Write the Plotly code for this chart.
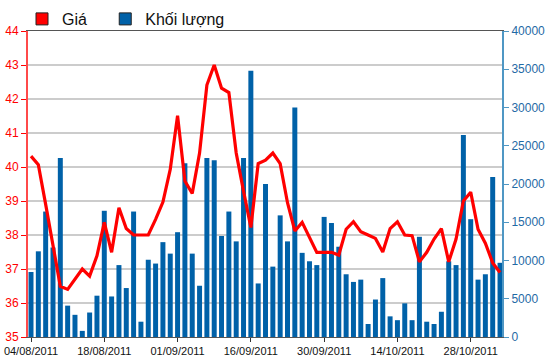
import plotly.graph_objects as go

dates = [
    "04/08/2011", "05/08/2011", "08/08/2011", "09/08/2011", "10/08/2011", "11/08/2011", "12/08/2011",
    "15/08/2011", "16/08/2011", "17/08/2011", "18/08/2011", "19/08/2011", "22/08/2011", "23/08/2011",
    "24/08/2011", "25/08/2011", "26/08/2011", "29/08/2011", "30/08/2011", "31/08/2011",
    "01/09/2011", "05/09/2011", "06/09/2011", "07/09/2011", "08/09/2011", "09/09/2011", "12/09/2011",
    "13/09/2011", "14/09/2011", "15/09/2011", "16/09/2011", "19/09/2011", "20/09/2011", "21/09/2011",
    "22/09/2011", "23/09/2011", "26/09/2011", "27/09/2011", "28/09/2011", "29/09/2011", "30/09/2011",
    "03/10/2011", "04/10/2011", "05/10/2011", "06/10/2011", "07/10/2011", "10/10/2011", "11/10/2011",
    "12/10/2011", "13/10/2011", "14/10/2011", "17/10/2011", "18/10/2011", "19/10/2011", "20/10/2011",
    "21/10/2011", "24/10/2011", "25/10/2011", "26/10/2011", "27/10/2011", "28/10/2011", "31/10/2011",
    "01/11/2011", "02/11/2011", "03/11/2011",
]

volume = [
    8500, 11200, 16400, 11700, 23400, 4100, 2900, 800, 3200, 5400,
    16500, 5300, 9400, 6400, 16400, 2000, 10100, 9600, 12400, 10900,
    13700, 22700, 10900, 6700, 23400, 23100, 13200, 16400, 12500, 23400,
    34800, 7000, 20000, 9200, 15900, 12500, 30000, 11000, 9900, 9400,
    15700, 14900, 11800, 8200, 7200, 7500, 1700, 4900, 7700, 2700,
    2200, 4400, 2200, 13100, 2000, 1700, 3300, 9900, 9400, 26400,
    15400, 7500, 8200, 20900, 9700,
]

price = [
    40.32, 40.07, 38.9, 37.7, 36.49, 36.40, 36.71, 37.0, 36.79, 37.39,
    38.37, 37.49, 38.8, 38.19, 38.0, 38.0, 38.0, 38.46, 38.97, 39.93,
    41.51, 39.59, 39.22, 40.41, 42.41, 43.0, 42.32, 42.19, 40.41, 39.29,
    38.22, 40.1, 40.2, 40.41, 40.1, 38.95, 38.12, 38.37, 37.93, 37.49,
    37.49, 37.49, 37.41, 38.17, 38.39, 38.1, 38.0, 37.9, 37.5, 38.19,
    38.39, 38.0, 37.98, 37.21, 37.49, 37.88, 38.19, 37.21, 37.88, 39.0,
    39.26, 38.17, 37.76, 37.18, 36.9,
]

tick_dates = ["04/08/2011", "18/08/2011", "01/09/2011", "16/09/2011",
              "30/09/2011", "14/10/2011", "28/10/2011"]

price_ticks = [35, 36, 37, 38, 39, 40, 41, 42, 43, 44]
volume_ticks = [0, 5000, 10000, 15000, 20000, 25000, 30000, 35000, 40000]
volume_labels = ["0", "5000", "10000", "15000", "20000", "25000", "30000", "35000", "40000"]

RED = "#ff0000"
BLUE = "#0061a8"
BLUE_TXT = "#1f6aa5"

fig = go.Figure()

# legend-only entries (trailing no-break spaces widen the first entry)
fig.add_trace(go.Bar(x=[None], y=[None], name="Giá\u00a0\u00a0\u00a0", yaxis="y",
                     marker=dict(color=RED, line=dict(color="#222", width=1)),
                     showlegend=True, hoverinfo="skip"))
fig.add_trace(go.Bar(x=[None], y=[None], name="Khối lượng", yaxis="y",
                     marker=dict(color=BLUE, line=dict(color="#222", width=1)),
                     showlegend=True, hoverinfo="skip"))

fig.add_trace(go.Bar(x=dates, y=volume, name="Khối lượng", yaxis="y",
                     marker=dict(color=BLUE, line=dict(width=0)),
                     width=0.68, showlegend=False))
fig.add_trace(go.Scatter(x=dates, y=price, name="Giá", yaxis="y2", mode="lines",
                         line=dict(color=RED, width=3.2), showlegend=False))

fig.update_layout(
    width=550, height=364,
    margin=dict(l=28, r=48, t=31, b=27, autoexpand=False),
    paper_bgcolor="white", plot_bgcolor="white",
    barmode="overlay",
    font=dict(family="Liberation Sans, Arial, sans-serif", size=12, color="#222"),
    showlegend=True,
    legend=dict(orientation="h", xref="container", yref="container",
                x=22 / 550, xanchor="left", y=1 - 19 / 364, yanchor="middle",
                font=dict(size=16, color="#111"),
                bgcolor="rgba(0,0,0,0)", traceorder="normal"),
    xaxis=dict(type="category", categoryorder="array", categoryarray=dates,
               range=[-0.41, 64.27], tickmode="array", tickvals=tick_dates,
               ticktext=tick_dates, ticks="outside", ticklen=4, tickcolor="#333",
               showline=True, linecolor="#555", linewidth=1, mirror=True,
               showgrid=False, automargin=False, tickfont=dict(size=11, color="#111")),
    yaxis=dict(side="right", range=[0, 40000], tickmode="array", tickvals=volume_ticks,
               ticktext=volume_labels,
               ticks="outside", ticklen=5, tickcolor="#4f97c4",
               showline=True, linecolor="#4f97c4", linewidth=2,
               showgrid=False, zeroline=False, automargin=False,
               tickfont=dict(size=12, color=BLUE_TXT)),
    yaxis2=dict(side="left", overlaying="y", range=[35, 44], tickmode="array",
                tickvals=price_ticks,
                ticks="outside", ticklen=5, tickcolor=RED,
                showline=True, linecolor="#ff4a4a", linewidth=2,
                showgrid=True, gridcolor="#cccccc", gridwidth=1.5, zeroline=False,
                automargin=False, tickfont=dict(size=12, color=RED)),
)

fig.write_html("out.html", config={"displayModeBar": False},
               post_script="document.body.style.margin='0';document.body.style.padding='0';")
